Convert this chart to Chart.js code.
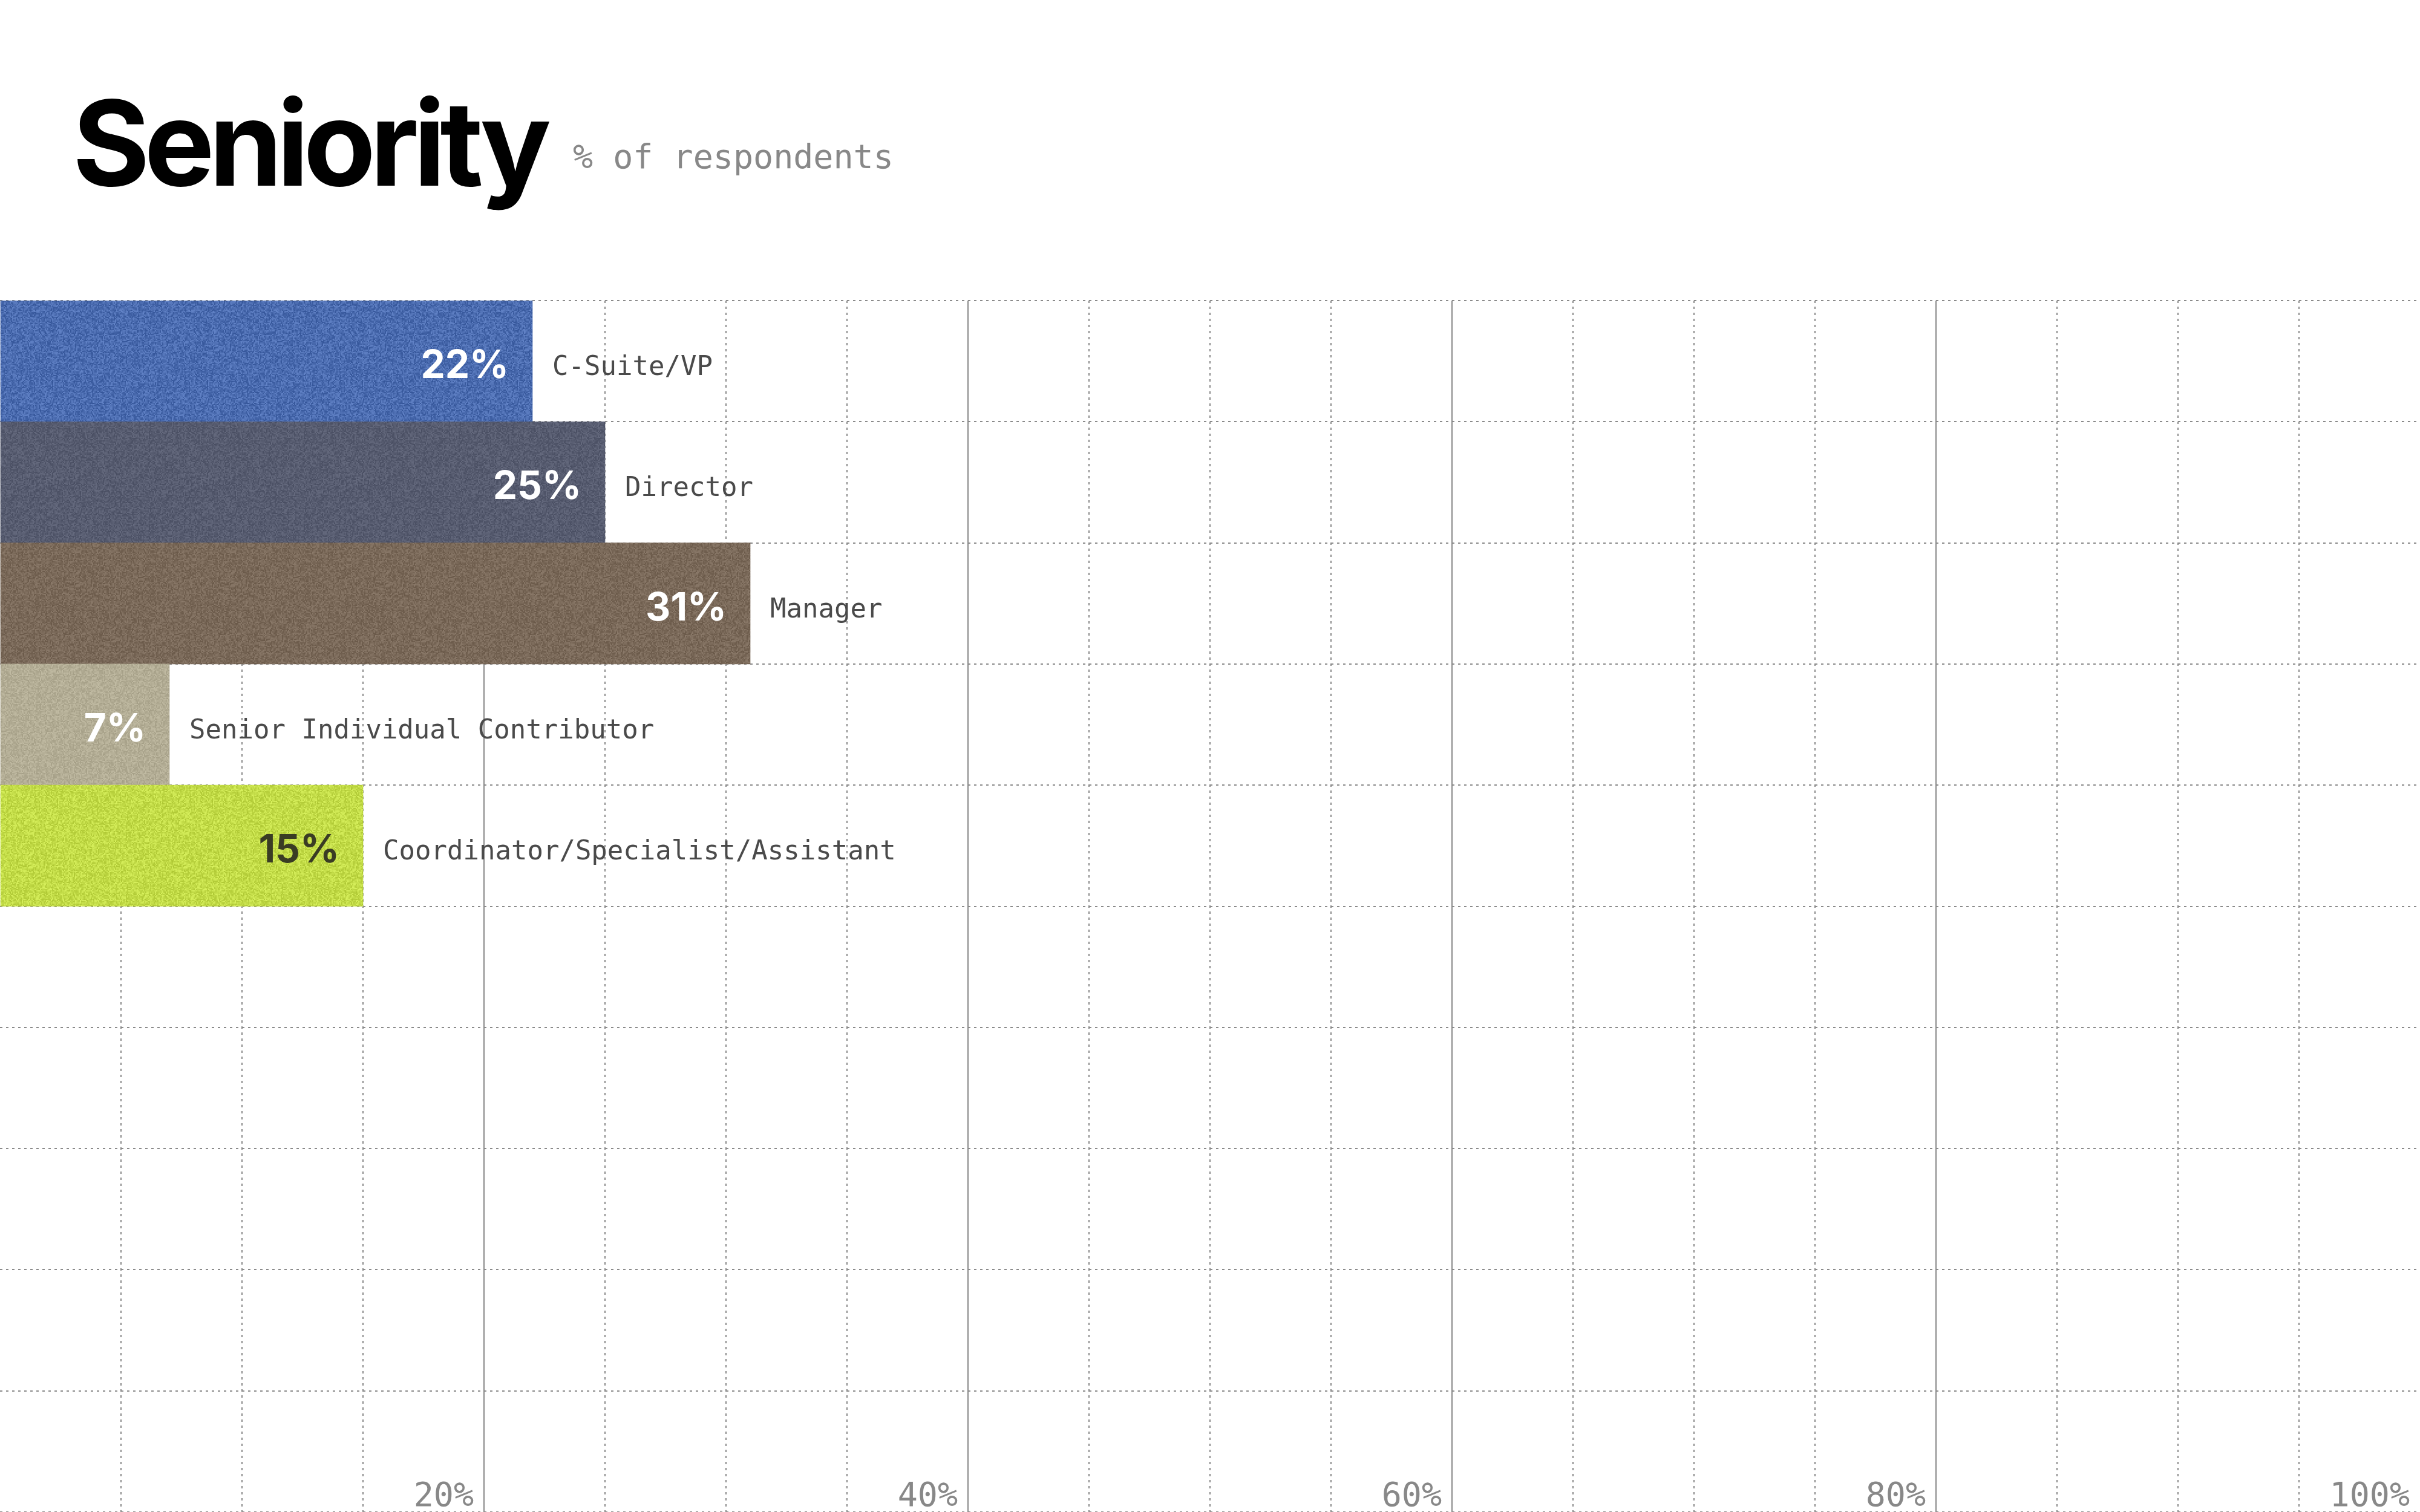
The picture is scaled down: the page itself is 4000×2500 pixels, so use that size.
<!DOCTYPE html>
<html>
<head>
<meta charset="utf-8">
<script src="https://cdn.jsdelivr.net/npm/chart.js@4.4.1/dist/chart.umd.min.js"></script>
<style>
  html, body { margin: 0; padding: 0; background: #fff; }
  #wrap { position: relative; width: 4000px; height: 2500px; overflow: hidden; }
  #title { position: absolute; left: 120px; top: 139px; font: 700 195px Inter, "Noto Sans", sans-serif; letter-spacing: -0.047em; line-height: 195px; color: #000; white-space: nowrap; }
  #sub { position: absolute; left: 947px; top: 232px; font: 400 55px "DejaVu Sans Mono", monospace; line-height: 55px; color: #888; white-space: nowrap; }
  canvas { position: absolute; left: 0; top: 0; }
</style>
</head>
<body>
<div id="wrap">
  <div id="title">Seniority</div>
  <div id="sub">% of respondents</div>
  <canvas id="c" width="4000" height="2500"></canvas>
</div>
<script>
// ---- data ----
const categories = ['C-Suite/VP', 'Director', 'Manager', 'Senior Individual Contributor', 'Coordinator/Specialist/Assistant'];
const values = [22, 25, 31, 7, 15];
const emptyRows = ['', '', '', '', ''];
const tickValues = [20, 40, 60, 80, 100];

// ---- styles ----
const barColors = ['#4b6cb0', '#575c70', '#7a6959', '#b3ad95', '#c3dc48'];
const barNoise = [22, 14, 16, 14, 20];
const valueLabelColors = ['#ffffff', '#ffffff', '#ffffff', '#ffffff', '#3a3c24'];
const gridColor = '#8a8a8a';

function texture(hex, amp, seed) {
  const size = 256;
  const c = document.createElement('canvas');
  c.width = size; c.height = size;
  const g = c.getContext('2d');
  const r0 = parseInt(hex.slice(1, 3), 16), g0 = parseInt(hex.slice(3, 5), 16), b0 = parseInt(hex.slice(5, 7), 16);
  const img = g.createImageData(size, size);
  let s = seed;
  const cell = 2;
  for (let cy = 0; cy < size; cy += cell) {
    for (let cx = 0; cx < size; cx += cell) {
      s = (s * 1103515245 + 12345) & 0x7fffffff;
      const n = (s / 0x7fffffff - 0.5) * 2 * amp;
      for (let dy = 0; dy < cell; dy++) for (let dx = 0; dx < cell; dx++) {
        const idx = ((cy + dy) * size + (cx + dx)) * 4;
        img.data[idx] = Math.max(0, Math.min(255, r0 + n));
        img.data[idx + 1] = Math.max(0, Math.min(255, g0 + n));
        img.data[idx + 2] = Math.max(0, Math.min(255, b0 + n));
        img.data[idx + 3] = 255;
      }
    }
  }
  g.putImageData(img, 0, 0);
  return g.createPattern(c, 'repeat');
}

const patterns = barColors.map((col, i) => texture(col, barNoise[i], 1234 + i * 977));

const labelPlugin = {
  id: 'barLabels',
  afterDatasetsDraw(chart) {
    const ctx = chart.ctx;
    const meta = chart.getDatasetMeta(0);
    meta.data.forEach((bar, i) => {
      if (values[i] == null) return;
      ctx.save();
      ctx.textBaseline = 'alphabetic';
      ctx.font = '700 64px Inter, "Noto Sans", sans-serif';
      ctx.fillStyle = valueLabelColors[i];
      ctx.textAlign = 'right';
      ctx.fillText(values[i] + '%', bar.x - 39, bar.y + 28);
      ctx.font = '400 44px "DejaVu Sans Mono", monospace';
      ctx.fillStyle = '#4a4a4a';
      ctx.textAlign = 'left';
      ctx.fillText(categories[i], bar.x + 33, bar.y + 23);
      ctx.restore();
    });
    const xs = chart.scales.x;
    ctx.save();
    ctx.font = '400 55px "DejaVu Sans Mono", monospace';
    ctx.fillStyle = '#888888';
    ctx.textAlign = 'right';
    ctx.textBaseline = 'alphabetic';
    tickValues.forEach(v => {
      ctx.fillText(v + '%', xs.getPixelForValue(v) - 17, 2490);
    });
    ctx.restore();
  }
};

new Chart(document.getElementById('c'), {
  type: 'bar',
  data: {
    labels: categories.concat(emptyRows),
    datasets: [{
      data: values,
      backgroundColor: patterns,
      borderWidth: 0,
      categoryPercentage: 1,
      barPercentage: 1,
      xAxisID: 'x',
      yAxisID: 'y'
    }]
  },
  options: {
    indexAxis: 'y',
    responsive: false,
    animation: false,
    devicePixelRatio: 1,
    layout: { padding: { top: 497, left: 0, right: 0, bottom: 0 } },
    plugins: { legend: { display: false }, tooltip: { enabled: false }, title: { display: false } },
    scales: {
      x: {
        type: 'linear', position: 'bottom', min: 0, max: 100,
        ticks: { display: false, stepSize: 5 },
        grid: {
          drawTicks: false, lineWidth: 2,
          color: ctx => (ctx.tick && ctx.tick.value % 20 === 0) ? 'rgba(0,0,0,0)' : gridColor
        },
        border: { display: false, dash: [4, 6] }
      },
      x2: {
        type: 'linear', position: 'bottom', min: 0, max: 100,
        ticks: { display: false, stepSize: 20 },
        grid: {
          drawTicks: false, lineWidth: 2,
          color: ctx => (ctx.tick && (ctx.tick.value === 0 || ctx.tick.value === 100)) ? 'rgba(0,0,0,0)' : gridColor
        },
        border: { display: false }
      },
      y: {
        type: 'category', position: 'left', offset: true,
        ticks: { display: false },
        grid: { drawTicks: false, lineWidth: 2, color: gridColor, offset: true },
        border: { display: false, dash: [4, 6] }
      }
    }
  },
  plugins: [labelPlugin]
});
</script>
</body>
</html>
